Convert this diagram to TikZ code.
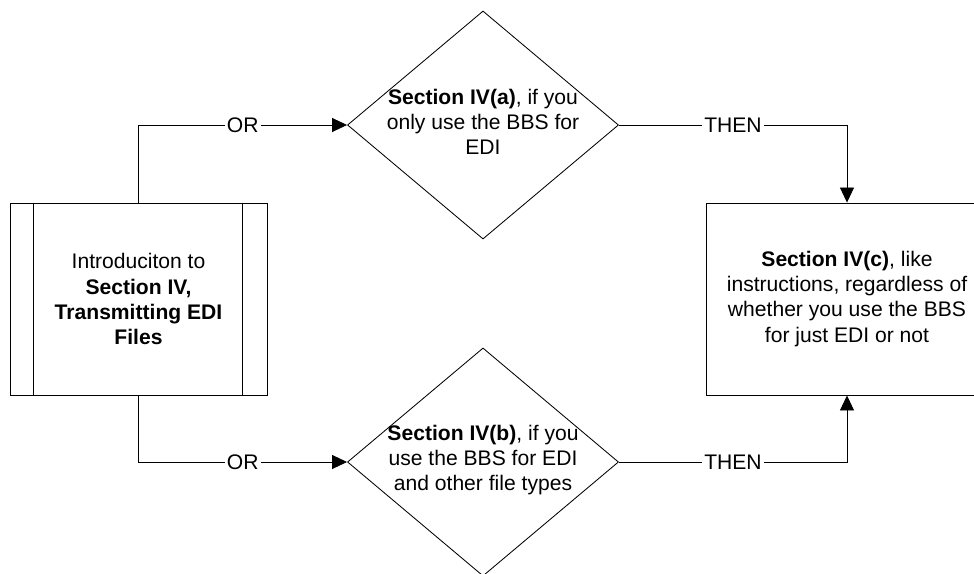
\documentclass[tikz,border=0pt]{standalone}
\usepackage{fontspec}
\setmainfont{Liberation Sans}
\usetikzlibrary{shapes.geometric,arrows.meta,calc}

\begin{document}
\begin{tikzpicture}[x=0.025cm,y=-0.025cm,
    every node/.style={font=\fontsize{15pt}{17.8pt}\selectfont, align=center},
    box/.style={draw, line width=0.6pt, inner sep=0pt, minimum height=4.8cm},
    decision/.style={diamond, draw, line width=0.6pt, inner sep=0pt, minimum width=6.775cm, minimum height=5.7cm},
    link/.style={draw, line width=0.6pt, -{Triangle[length=0.375cm,width=0.35cm]}},
    tag/.style={fill=white, inner sep=1.5pt}]
    \useasboundingbox (0,0) rectangle (974,573);

    % start box with the two side bars
    \node[box, minimum width=6.425cm] (intro) at (138.5,299) {Introduciton to\\\textbf{Section IV,}\\\textbf{Transmitting EDI}\\\textbf{Files}};
    \draw[line width=0.6pt] ($(intro.north west)+(24,0)$) -- ($(intro.south west)+(24,0)$);
    \draw[line width=0.6pt] ($(intro.north east)+(-25,0)$) -- ($(intro.south east)+(-25,0)$);

    % the two choices
    \node[decision] (secA) at (483,125) {};
    \node (secAtext) at (483,122) {\textbf{Section IV(a)}, if you\\only use the BBS for\\EDI};
    \node[decision] (secB) at (483,462) {};
    \node (secBtext) at (483,460) {\textbf{Section IV(b)}, if you\\use the BBS for EDI\\and other file types};

    % common part
    \node[box, minimum width=7.05cm] (result) at (847,299) {\textbf{Section IV(c)}, like\\instructions, regardless of\\whether you use the BBS\\for just EDI or not};

    \path[link] (intro.north) |- node[tag, pos=0.75] (orA) {OR} (secA.west);
    \path[link] (intro.south) |- node[tag, pos=0.75] (orB) {OR} (secB.west);
    \path[link] (secA.east) -| node[tag, pos=0.25] (thenA) {THEN} (result.north);
    \path[link] (secB.east) -| node[tag, pos=0.25] (thenB) {THEN} (result.south);
\end{tikzpicture}
\end{document}
